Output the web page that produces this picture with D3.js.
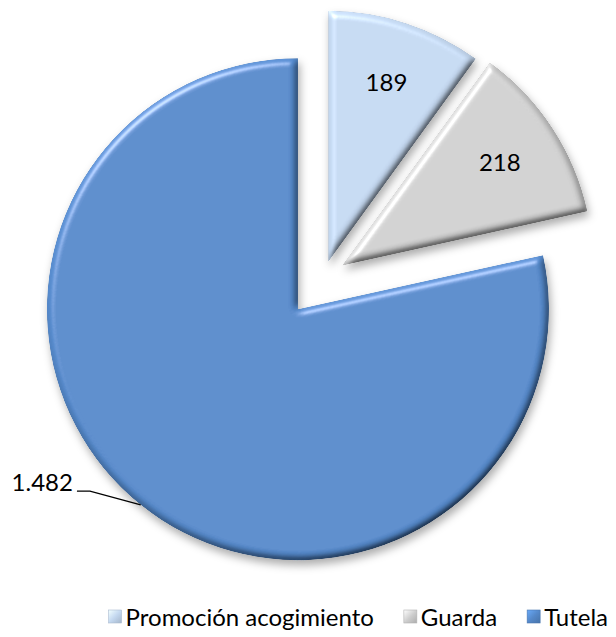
<!DOCTYPE html>
<html>
<head>
<meta charset="utf-8">
<script src="https://cdn.jsdelivr.net/npm/d3@7"></script>
<style>
  html, body { margin: 0; padding: 0; background: #fff; }
  svg { display: block; }
  text { font-family: Lato, "Open Sans", "DejaVu Sans", sans-serif; fill: #000; }
</style>
</head>
<body>
<svg id="chart" width="616" height="637"></svg>
<script>
// ---- data ----
const categories = ["Promoción acogimiento", "Guarda", "Tutela"];
const values = [189, 218, 1482];
const valueLabels = ["189", "218", "1.482"];

// ---- styles ----
const colors = ["#C4D8F0", "#CFCFCF", "#5589CA"];
const W = 616, H = 637;
const cx = 323, cy = 278, R = 251;
const explode = [17, 23, 40];

const svg = d3.select("#chart");
const defs = svg.append("defs");

// bevel + shadow filter
const f = defs.append("filter").attr("id", "bevel")
  .attr("x", "-20%").attr("y", "-20%").attr("width", "140%").attr("height", "140%");
f.append("feGaussianBlur").attr("in", "SourceAlpha").attr("stdDeviation", 3.5).attr("result", "blur");
const diff = f.append("feDiffuseLighting").attr("in", "blur").attr("surfaceScale", 5)
  .attr("diffuseConstant", 1).attr("lighting-color", "#fff").attr("result", "diff");
diff.append("feDistantLight").attr("azimuth", 235).attr("elevation", 55);
f.append("feComposite").attr("in", "SourceGraphic").attr("in2", "diff")
  .attr("operator", "arithmetic").attr("k1", 1.22).attr("k2", 0).attr("k3", 0).attr("k4", 0).attr("result", "shaded");
const spec = f.append("feSpecularLighting").attr("in", "blur").attr("surfaceScale", 5)
  .attr("specularConstant", 0.8).attr("specularExponent", 30).attr("lighting-color", "#fff").attr("result", "spec");
spec.append("feDistantLight").attr("azimuth", 235).attr("elevation", 40);
f.append("feComposite").attr("in", "spec").attr("in2", "SourceAlpha").attr("operator", "in").attr("result", "specIn");
f.append("feComposite").attr("in", "shaded").attr("in2", "specIn")
  .attr("operator", "arithmetic").attr("k2", 1).attr("k3", 0.6).attr("result", "lit");
f.append("feComposite").attr("in", "lit").attr("in2", "SourceAlpha").attr("operator", "in").attr("result", "litIn");
f.append("feGaussianBlur").attr("in", "SourceAlpha").attr("stdDeviation", 4).attr("result", "sb");
f.append("feOffset").attr("in", "sb").attr("dx", 2).attr("dy", 5).attr("result", "so");
f.append("feFlood").attr("flood-color", "#000").attr("flood-opacity", 0.32).attr("result", "fl");
f.append("feComposite").attr("in", "fl").attr("in2", "so").attr("operator", "in").attr("result", "shadow");
const m = f.append("feMerge");
m.append("feMergeNode").attr("in", "shadow");
m.append("feMergeNode").attr("in", "litIn");

// legend marker gradients
colors.forEach((c, i) => {
  const g = defs.append("linearGradient").attr("id", "lg" + i)
    .attr("x1", 0).attr("y1", 0).attr("x2", 1).attr("y2", 1);
  g.append("stop").attr("offset", "0%").attr("stop-color", d3.color(c).brighter(0.6));
  g.append("stop").attr("offset", "50%").attr("stop-color", c);
  g.append("stop").attr("offset", "100%").attr("stop-color", d3.color(c).darker(0.5));
});

const pie = d3.pie().sort(null).value(d => d).startAngle(0).endAngle(2 * Math.PI);
const arcs = pie(values);
const arc = d3.arc().innerRadius(0).outerRadius(R);
const labelArc = d3.arc().innerRadius(R * 0.5).outerRadius(R);

const g = svg.append("g").attr("transform", `translate(${cx},${cy})`);

const slices = g.selectAll("g.slice").data(arcs).enter().append("g")
  .attr("class", "slice")
  .attr("transform", (d, i) => {
    const a = (d.startAngle + d.endAngle) / 2;
    return `translate(${explode[i] * Math.sin(a)},${-explode[i] * Math.cos(a)})`;
  });

slices.append("path")
  .attr("d", arc)
  .attr("fill", (d, i) => colors[i])
  .attr("filter", "url(#bevel)");

// inside labels for small slices
slices.filter((d, i) => i < 2).append("text")
  .attr("transform", d => `translate(${labelArc.centroid(d)})`)
  .attr("text-anchor", "middle")
  .attr("dy", "0.35em")
  .style("font-size", "24px")
  .text((d, i) => valueLabels[i]);

// outside label with leader for Tutela
const big = arcs[2];
const bigSlice = d3.select(slices.nodes()[2]);
const ma = (big.startAngle + big.endAngle) / 2;
const p0 = [R * Math.sin(ma), -R * Math.cos(ma)];
const elbow = [-208, 182];
const lineEnd = [-221, 182];
bigSlice.append("polyline")
  .attr("points", [p0, elbow, lineEnd].map(p => p.join(",")).join(" "))
  .attr("fill", "none").attr("stroke", "#000").attr("stroke-width", 1.3);
bigSlice.append("text")
  .attr("x", lineEnd[0] - 4).attr("y", lineEnd[1])
  .attr("text-anchor", "end")
  .style("font-size", "24px")
  .text(valueLabels[2]);

// legend (right-aligned so that the last entry ends near the right edge)
const legend = svg.append("g");
let x = 0;
categories.forEach((c, i) => {
  const it = legend.append("g").attr("transform", `translate(${x},0)`);
  it.append("rect").attr("x", 0).attr("y", -7).attr("width", 13).attr("height", 13)
    .attr("fill", `url(#lg${i})`).attr("stroke", d3.color(colors[i]).darker(0.4)).attr("stroke-width", 0.6);
  const t = it.append("text").attr("x", 17).attr("y", 0).attr("dy", "0.36em")
    .style("font-size", "24px").text(c);
  x += 17 + t.node().getComputedTextLength() + (i < categories.length - 1 ? 30 : 0);
});
legend.attr("transform", `translate(${608 - x},617)`);
</script>
</body>
</html>
